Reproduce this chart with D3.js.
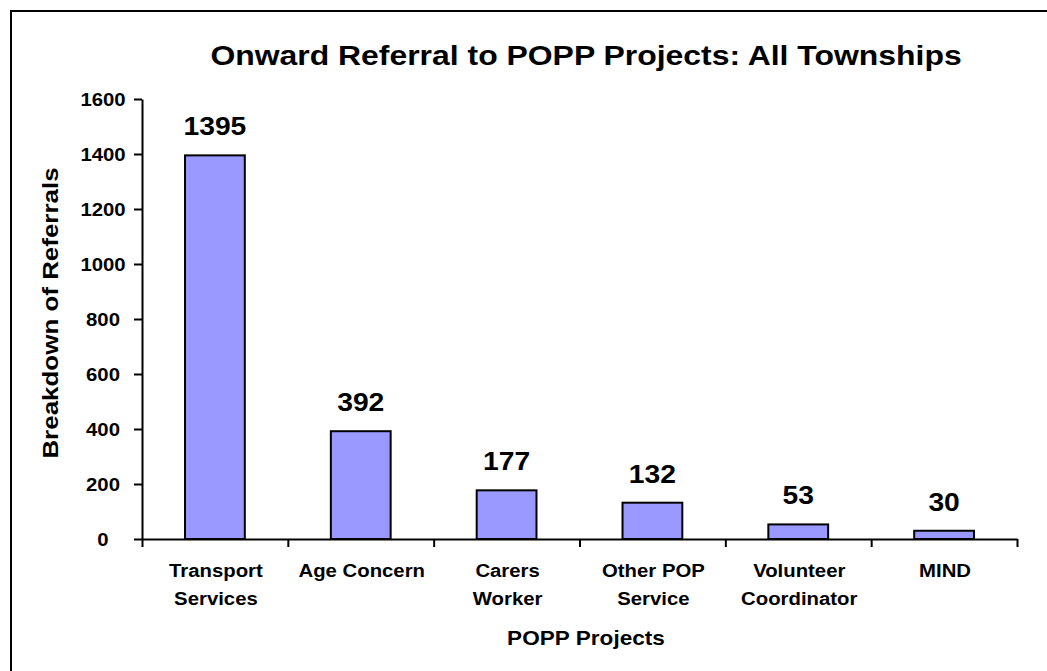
<!DOCTYPE html>
<html>
<head>
<meta charset="utf-8">
<script src="https://cdn.jsdelivr.net/npm/d3@7"></script>
<style>
  body { margin: 0; background: #fff; }
  text { font-family: "Liberation Sans", Arial, sans-serif; font-weight: bold; fill: #000; }
</style>
</head>
<body>
<div id="chart"></div>
<script>
// chart data
var categories = ["Transport Services", "Age Concern", "Carers Worker", "Other POP Service", "Volunteer Coordinator", "MIND"];
var labelLines = [["Transport", "Services"], ["Age Concern"], ["Carers", "Worker"], ["Other POP", "Service"], ["Volunteer", "Coordinator"], ["MIND"]];
var referrals = [1395, 392, 177, 132, 53, 30];
var yTicks = [0, 200, 400, 600, 800, 1000, 1200, 1400, 1600];

var W = 1047, H = 671;
var plot = {left: 142, right: 1017, top: 99, bottom: 539};
var stretch = 1.13; // text in the picture is a bit wider than normal

var svg = d3.select("#chart").append("svg")
  .attr("width", W)
  .attr("height", H);

svg.append("rect").attr("width", W).attr("height", H).attr("fill", "#fff");

// outer frame (right and bottom edges run off the picture)
svg.append("rect")
  .attr("x", 11).attr("y", 11)
  .attr("width", W + 20).attr("height", H + 20)
  .attr("fill", "none").attr("stroke", "#000").attr("stroke-width", 2);

// stretched text helper
function label(parent, x, y, str, size, sx, rot) {
  var g = parent.append("g")
    .attr("transform", "translate(" + x + "," + y + ")" + (rot ? " rotate(" + rot + ")" : ""));
  return g.append("text")
    .attr("transform", "scale(" + sx + ",1)")
    .attr("text-anchor", "middle")
    .style("font-size", size + "px")
    .text(str);
}

// scales
var x = d3.scaleBand()
  .domain(categories)
  .range([plot.left, plot.right])
  .paddingInner(0.59)
  .paddingOuter(0.295);

var xEdge = d3.scaleLinear()
  .domain([0, categories.length])
  .range([plot.left, plot.right]);

var y = d3.scaleLinear()
  .domain([0, 1600])
  .range([plot.bottom, plot.top]);

// bars
svg.selectAll("rect.bar")
  .data(referrals)
  .enter().append("rect")
  .attr("class", "bar")
  .attr("x", function(d, i) { return x(categories[i]); })
  .attr("width", x.bandwidth())
  .attr("y", function(d) { return y(d); })
  .attr("height", function(d) { return y(0) - y(d); })
  .attr("fill", "#9999ff")
  .attr("stroke", "#000")
  .attr("stroke-width", 2);

// value labels
referrals.forEach(function(d, i) {
  label(svg, x(categories[i]) + x.bandwidth() / 2, y(d) - 20, d, 25, stretch);
});

// y axis
var yAxis = svg.append("g")
  .attr("transform", "translate(" + plot.left + ",0)")
  .call(d3.axisLeft(y).tickValues(yTicks).tickSize(8).tickSizeOuter(0).tickFormat(""));
yAxis.selectAll("path, line").attr("stroke", "#000").attr("stroke-width", 2);

yTicks.forEach(function(t) {
  label(svg, plot.left - 39, y(t) + 6.5, t, 18, stretch);
});

// x axis, ticks sit between the categories
var xAxis = svg.append("g")
  .attr("transform", "translate(0," + plot.bottom + ")")
  .call(d3.axisBottom(xEdge).tickValues(d3.range(categories.length + 1)).tickSize(8).tickSizeOuter(0).tickFormat(""));
xAxis.selectAll("path, line").attr("stroke", "#000").attr("stroke-width", 2);

labelLines.forEach(function(lines, i) {
  var cx = x(categories[i]) + x.bandwidth() / 2;
  lines.forEach(function(s, j) {
    label(svg, cx + 1, 577 + j * 28, s, 18, stretch);
  });
});

// titles
label(svg, 586, 65, "Onward Referral to POPP Projects: All Townships", 28, 1.14);
label(svg, 586, 645, "POPP Projects", 20, stretch);
label(svg, 58, 313, "Breakdown of Referrals", 22, 1.18, -90);
</script>
</body>
</html>
